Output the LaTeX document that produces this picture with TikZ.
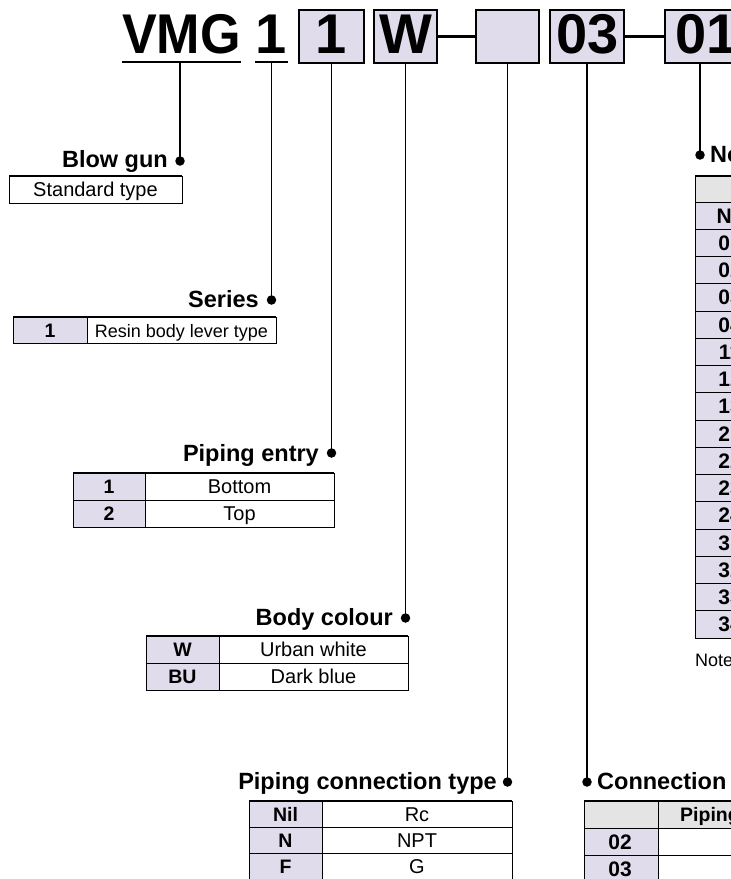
\documentclass[tikz,border=0pt]{standalone}
\usepackage{fontspec}
\setmainfont{Liberation Sans}
\definecolor{keyfill}{HTML}{E0DCEC}
\definecolor{headfill}{HTML}{E4E4E4}
\begin{document}
\begin{tikzpicture}[x=1pt,y=-1pt,
  bigt/.style={font=\fontsize{56}{56}\selectfont\bfseries, inner sep=0pt},
  lbl/.style={font=\fontsize{23.5}{23.5}\selectfont\bfseries, inner sep=0pt},
  keyt/.style={font=\fontsize{19.5}{19.5}\selectfont\bfseries, inner sep=0pt, anchor=base},
  keyb/.style={font=\fontsize{21}{21}\selectfont\bfseries, inner sep=0pt, anchor=base},
  valt/.style={font=\fontsize{20}{20}\selectfont, inner sep=0pt, anchor=base},
  notet/.style={font=\fontsize{18}{18}\selectfont, inner sep=0pt, anchor=base west},
  codebox/.style={draw, line width=2pt, fill=keyfill, inner sep=0pt, minimum height=53pt},
  joint/.style={line width=2.4pt},
  uline/.style={line width=1.8pt},
  leader/.style={line width=1.6pt},
  dotn/.style={circle, fill=black, inner sep=0pt, minimum size=9.5pt},
  gridl/.style={line width=1pt},
  topl/.style={line width=1.8pt}]
\useasboundingbox (0,0) rectangle (731,879);
\clip (0,0) rectangle (731,879);

% ---------- top code ----------
\node[bigt, anchor=base, xscale=0.93] (vmg) at (181.5,53) {VMG};
\draw[uline] (122,62) -- (241,62);
\node[bigt, anchor=base] (ser) at (271.5,53) {1};
\draw[uline] (255,62) -- (288,62);

\node[codebox, minimum width=65pt] (b1) at (331.5,36.5) {};
\node[bigt, anchor=base] (t1) at (331.5,53) {1};
\node[codebox, minimum width=63pt] (bW) at (405.5,36.5) {};
\node[bigt, anchor=base] (tW) at (405.5,53) {W};
\node[codebox, minimum width=63pt] (bN) at (507.5,36.5) {};
\node[codebox, minimum width=74pt] (b03) at (587,36.5) {};
\node[bigt, anchor=base] (t03) at (588,53) {03};
\node[codebox, minimum width=70pt] (b01) at (700,36.5) {};
\node[bigt, anchor=base] (t01) at (707,53) {01};
\draw[joint] (bW.east) -- (bN.west);
\draw[joint] (b03.east) -- (b01.west);

% ---------- leaders ----------
\coordinate (uVMG) at (180,62);
\coordinate (uSer) at (271.5,62);
\node[dotn] (dBG) at (180,161) {};
\node[dotn] (dSer) at (271.5,300) {};
\node[dotn] (dPE) at (331.5,453) {};
\node[dotn] (dBC) at (405.5,618) {};
\node[dotn] (dPC) at (507.5,782) {};
\node[dotn] (dCN) at (587,782) {};
\node[dotn] (dNZ) at (700,155) {};
\draw[leader] (uVMG) -- (dBG.center);
\draw[leader] (uSer) -- (dSer.center);
\draw[leader] (b1.south) -- (dPE.center);
\draw[leader] (bW.south) -- (dBC.center);
\draw[leader] (bN.south) -- (dPC.center);
\draw[leader] (b03.south) -- (dCN.center);
\draw[leader] (b01.south) -- (dNZ.center);

% ---------- labels ----------
\node[lbl, anchor=base east] (lBG) at (168,167) {Blow gun};
\node[lbl, anchor=base east] (lSer) at (259,307) {Series};
\node[lbl, anchor=base east] (lPE) at (319,461) {Piping entry};
\node[lbl, anchor=base east] (lBC) at (393,625) {Body colour};
\node[lbl, anchor=base east] (lPC) at (497,789) {Piping connection type};
\node[lbl, anchor=base west] (lCN) at (597,789) {Connection};
\node[lbl, anchor=base west] (lNZ) at (710,162) {Nozzle};

% ---------- Blow gun table ----------
\draw[gridl] (9,176) rectangle (182,203);
\draw[topl] (9,176) -- (182,176);
\node[valt] (vBG) at (95.5,196.5) {Standard type};

% ---------- Series table ----------
\fill[keyfill] (13,317) rectangle (87,343);
\draw[gridl] (13,317) rectangle (276,343);
\draw[gridl] (87,317) -- (87,343);
\draw[topl] (13,317) -- (276,317);
\node[keyt] (kSer) at (50,337) {1};
\node[valt, font=\fontsize{18}{18}\selectfont] (vSer) at (181.5,337) {Resin body lever type};

% ---------- Piping entry table ----------
\fill[keyfill] (73,473) rectangle (145,527);
\draw[gridl] (73,473) rectangle (334,527);
\draw[gridl] (145,473) -- (145,527);
\draw[gridl] (73,500) -- (334,500);
\draw[topl] (73,473) -- (334,473);
\node[keyt] (kPE1) at (109,493.5) {1};
\node[valt] (vPE1) at (239.5,493.5) {Bottom};
\node[keyt] (kPE2) at (109,520.5) {2};
\node[valt] (vPE2) at (239.5,520.5) {Top};

% ---------- Body colour table ----------
\fill[keyfill] (146,636) rectangle (219,690);
\draw[gridl] (146,636) rectangle (408,690);
\draw[gridl] (219,636) -- (219,690);
\draw[gridl] (146,663) -- (408,663);
\draw[topl] (146,636) -- (408,636);
\node[keyt] (kBC1) at (182.5,656.5) {W};
\node[valt] (vBC1) at (313.5,656.5) {Urban white};
\node[keyt] (kBC2) at (182.5,683.5) {BU};
\node[valt] (vBC2) at (313.5,683.5) {Dark blue};

% ---------- Piping connection type table ----------
\fill[keyfill] (249,801) rectangle (322,879);
\draw[gridl] (249,801) rectangle (512,879);
\draw[gridl] (322,801) -- (322,879);
\draw[gridl] (249,827) -- (512,827);
\draw[gridl] (249,853) -- (512,853);
\draw[topl] (249,801) -- (512,801);
\node[keyt] (kPC1) at (285.5,821) {Nil};
\node[valt] (vPC1) at (417,821) {Rc};
\node[keyt] (kPC2) at (285.5,847) {N};
\node[valt] (vPC2) at (417,847) {NPT};
\node[keyt] (kPC3) at (285.5,873) {F};
\node[valt] (vPC3) at (417,873) {G};

% ---------- Connection table ----------
\fill[headfill] (584,801) rectangle (760,828);
\fill[keyfill] (584,828) rectangle (658,882);
\draw[gridl] (584,801) rectangle (760,882);
\draw[gridl] (658,801) -- (658,882);
\draw[gridl] (584,828) -- (760,828);
\draw[gridl] (584,855) -- (760,855);
\draw[topl] (584,801) -- (760,801);
\node[keyt, anchor=base west] (hCN) at (680,821.5) {Piping};
\node[keyb] (kCN1) at (620,849) {02};
\node[keyb] (kCN2) at (620,876) {03};

% ---------- Nozzle table ----------
\fill[headfill] (695,176) rectangle (760,202);
\fill[keyfill] (695,202) rectangle (760,638);
\draw[gridl] (695,176) rectangle (760,638);
\draw[topl] (695,176) -- (760,176);
\foreach \k in {0,...,15} {
  \draw[gridl] (695,{202+27.25*\k}) -- (760,{202+27.25*\k});
}
\foreach \c [count=\i from 0] in {Nil,01,02,03,04,11,12,13,21,22,23,24,31,32,33,34} {
  \node[keyb] (nz\i) at (730,{202+27.25*\i+21}) {\c};
}
\node[notet] (note) at (695,666) {Note)};
\end{tikzpicture}
\end{document}
